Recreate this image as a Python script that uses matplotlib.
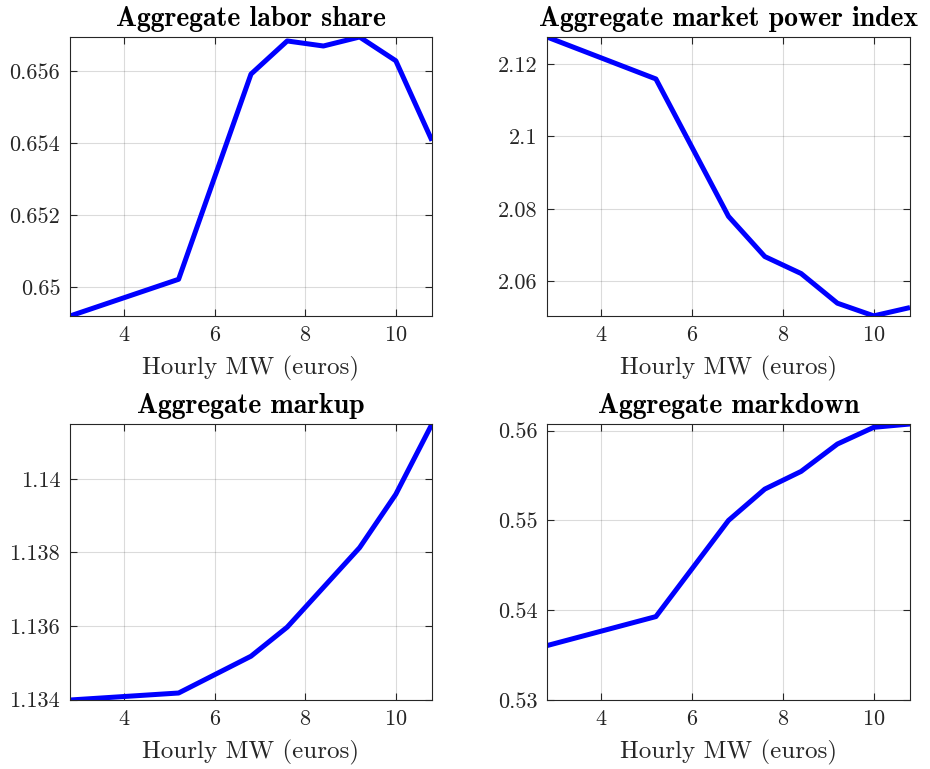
import numpy as np
import matplotlib.pyplot as plt
from matplotlib.ticker import FuncFormatter

plt.rcParams['font.family'] = 'cmr10'
plt.rcParams['axes.formatter.use_mathtext'] = True
plt.rcParams['mathtext.fontset'] = 'cm'

# hourly minimum wage grid (euros)
mw = [2.8, 5.2, 6.8, 7.6, 8.4, 9.2, 10.0, 10.8]

labor_share = [0.64919, 0.65021, 0.65591, 0.65683, 0.65669, 0.65694, 0.65628, 0.65406]
power_index = [2.1275, 2.1159, 2.0779, 2.0668, 2.0621, 2.0539, 2.0504, 2.0527]
markup = [1.13399, 1.13418, 1.13518, 1.13597, 1.13705, 1.13813, 1.13958, 1.14149]
markdown = [0.53606, 0.53929, 0.55000, 0.55349, 0.55546, 0.55851, 0.56037, 0.56074]

titles = ['Aggregate labor share', 'Aggregate market power index',
          'Aggregate markup', 'Aggregate markdown']
series = [labor_share, power_index, markup, markdown]
yticks = [[0.650, 0.652, 0.654, 0.656],
          [2.06, 2.08, 2.10, 2.12],
          [1.134, 1.136, 1.138, 1.140],
          [0.53, 0.54, 0.55, 0.56]]
ylims = [(0.64919, 0.65694), (2.05036, 2.1275), (1.13399, 1.14149), (0.53, 0.56074)]

W, H = 930, 769
fig = plt.figure(figsize=(W / 100, H / 100), dpi=100)

# axes boxes in pixels: left, top, right, bottom
boxes = [(70, 37, 432, 316), (547, 37, 910, 316),
         (70, 424, 432, 700), (547, 424, 910, 700)]

edge = '#262626'
for box, y, ttl, yt, yl in zip(boxes, series, titles, yticks, ylims):
    l, t, r, b = box
    ax = fig.add_axes([l / W, 1 - b / H, (r - l) / W, (b - t) / H])
    ax.plot(mw, y, color='#0000ff', linewidth=3.6, solid_capstyle='butt')
    ax.set_xlim(2.8, 10.8)
    ax.set_ylim(*yl)
    ax.set_xticks([4, 6, 8, 10])
    ax.set_yticks(yt)
    ax.yaxis.set_major_formatter(FuncFormatter(lambda v, p: '%g' % round(v, 6)))
    ax.grid(True, color='#000000', alpha=0.14, linewidth=0.8)
    ax.tick_params(direction='in', top=True, right=True, length=5, width=0.8,
                   colors=edge, labelsize=16, pad=7)
    for s in ax.spines.values():
        s.set_color(edge)
        s.set_linewidth(0.8)
    ax.set_xlabel('Hourly MW (euros)', fontsize=18, color=edge, labelpad=8)
    ax.set_title(ttl, fontsize=20, fontfamily='cmb10', pad=8)

fig.savefig('out.png', dpi=100)
